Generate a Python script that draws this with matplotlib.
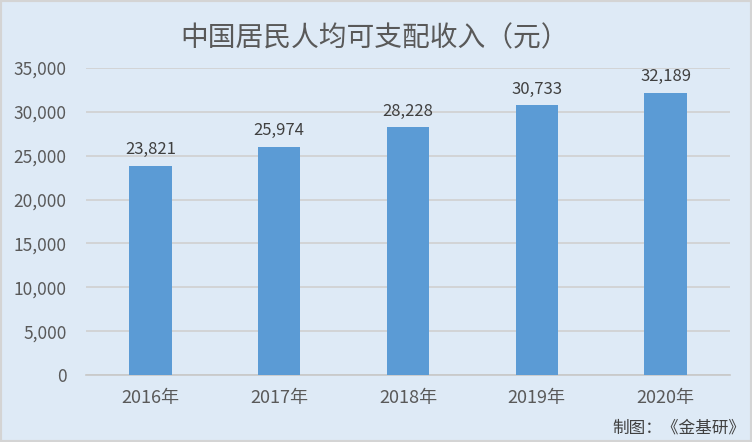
import matplotlib
matplotlib.use("Agg")
import matplotlib.pyplot as plt
from matplotlib.patches import Rectangle
from matplotlib.ticker import FuncFormatter

plt.rcParams['font.family'] = ['Noto Sans CJK SC', 'DejaVu Sans']

categories = ["2016年", "2017年", "2018年", "2019年", "2020年"]
values = [23821, 25974, 28228, 30733, 32189]
yticks = [0, 5000, 10000, 15000, 20000, 25000, 30000, 35000]

bg = "#DEEAF6"
fig = plt.figure(figsize=(7.52, 4.42), dpi=100)
fig.patch.set_facecolor(bg)
W, H = 752, 442
ax = fig.add_axes([86 / W, (H - 375) / H, 644 / W, 307 / H])
ax.set_facecolor(bg)

x = range(len(categories))
ax.bar(x, values, width=0.33, color="#5B9BD5", zorder=3)
for xi, v in zip(x, values):
    ax.text(xi, v + 900, f"{v:,}", ha="center", va="bottom", fontsize=12, color="#404040")

ax.set_xlim(-0.5, len(categories) - 0.5)
ax.set_ylim(0, 35000)
ax.set_yticks(yticks)
ax.yaxis.set_major_formatter(FuncFormatter(lambda v, p: f"{int(v):,}"))
ax.set_xticks(list(x))
ax.set_xticklabels(categories)
ax.tick_params(axis="both", length=0, labelcolor="#595959")
ax.tick_params(axis="y", pad=14, labelsize=12.5)
ax.tick_params(axis="x", pad=10, labelsize=13)
ax.grid(axis="y", color="#D0D0D0", linewidth=1.2, zorder=0)
for s in ["top", "right", "left"]:
    ax.spines[s].set_visible(False)
ax.spines["bottom"].set_color("#C8C8C8")
ax.spines["bottom"].set_linewidth(1.2)

fig.text(375 / W, 1 - 38 / H, "中国居民人均可支配收入（元）", ha="center", va="center",
         fontsize=20, color="#595959")
fig.text(745 / W, 1 - 428 / H, "制图：《金基研》", ha="right", va="center",
         fontsize=12, color="#404040")

fig.patches.append(Rectangle((0, 0), 1, 1, transform=fig.transFigure, fill=False,
                             edgecolor="#D4D4D4", linewidth=3, zorder=10))

fig.savefig("out.png", dpi=100, facecolor=bg)
